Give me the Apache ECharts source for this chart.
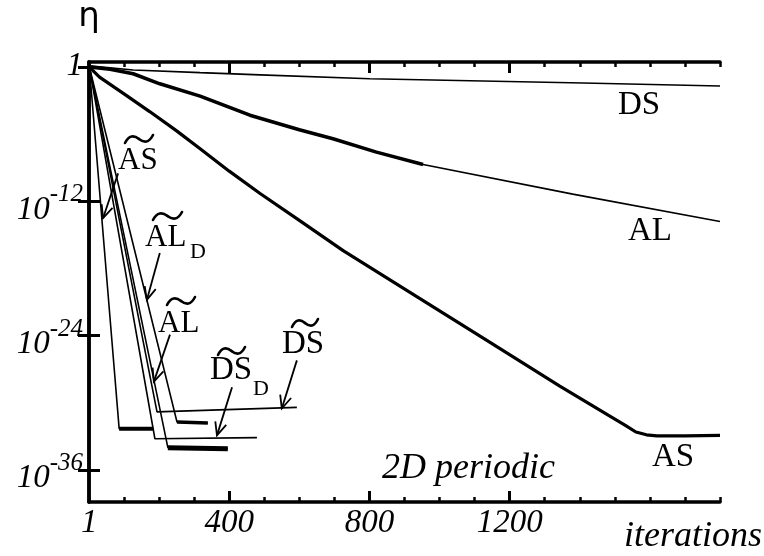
<!DOCTYPE html>
<html>
<head>
<meta charset="utf-8">
<title>2D periodic</title>
<script src="https://cdn.jsdelivr.net/npm/echarts@6.0.0/dist/echarts.min.js"></script>
<style>
  html, body { margin: 0; padding: 0; background: #fff; }
  #main { width: 764px; height: 556px; }
</style>
</head>
<body>
<div id="main"></div>
<script>
// values are log10(eta), x = iterations
const ds   = [[1, 0.1], [126, -0.27], [317, -0.5], [488, -0.7], [801, -1.04], [1409, -1.42], [1800, -1.69]];
const al   = [[1, 0], [60, -0.2], [126, -0.6], [202, -1.5], [317, -2.6], [459, -4.3], [600, -5.6], [696, -6.4],
              [820, -7.6], [953, -8.7], [1380, -11.35], [1800, -13.8]];
const as   = [[1, 0], [30, -0.9], [100, -2.4], [174, -4.0], [250, -5.7], [317, -7.3], [400, -9.3], [488, -11.3],
              [600, -13.7], [725, -16.4], [935, -20.5], [1144, -24.6], [1343, -28.5], [1481, -31.1], [1530, -32.0],
              [1560, -32.6], [1590, -32.85], [1620, -32.95], [1700, -32.95], [1800, -32.9]];
const asT  = [[1, 0], [86, -32.3], [183, -32.3]];
const dsTD = [[1, 0], [188, -33.2], [479, -33.1]];
const dsT  = [[1, 0], [194, -30.8], [593, -30.4]];
const alT  = [[1, 0], [225, -34.0], [396, -34.1]];
const alTD = [[1, 0], [251, -31.7], [339, -31.8]];

// iteration ranges where the curve is noisy (drawn thicker)
const noisyAl   = [1, 953];
const noisyAs   = [1, 1800];
const noisyAsT  = [86, 183];
const noisyAlT  = [225, 396];
const noisyAlTD = [251, 339];

// arrows: [fromIter, fromLog, toIter, toLog]
const arrows = [
  [83, -9.5, 40, -13.5],
  [202, -16.6, 165, -20.8],
  [231, -23.9, 185, -28.1],
  [408, -28.6, 365, -32.9],
  [593, -26.2, 550, -30.5]
];

const xLabels = [1, 400, 800, 1200];
const xMajor = [400, 800, 1200];
const yTickExp = [0, -12, -24, -36];

const toVal = e => Math.pow(10, e);
const pts = arr => arr.map(p => [p[0], toVal(p[1])]);
const part = (arr, r) => arr.filter(p => p[0] >= r[0] && p[0] <= r[1]);
const yTicks = yTickExp.map(toVal);

const SERIF = 'Liberation Serif';

function line(arr, width) {
  return {
    type: 'line', data: pts(arr), showSymbol: false, symbol: 'none', silent: true,
    lineStyle: { color: '#000', width: width }, z: 3
  };
}

function label(text, x, y, size, italic) {
  return {
    type: 'text', x: x, y: y, z: 10,
    style: { text: text, fontSize: size, fontFamily: SERIF, fontStyle: italic ? 'italic' : 'normal',
             fill: '#000', verticalAlign: 'middle', align: 'left' }
  };
}

// wide tilde drawn as two bezier pieces
function tilde(x0, x1, yc) {
  const s = (x1 - x0) / 28;
  const X = dx => x0 + dx * s;
  const st = { stroke: '#000', lineWidth: 2.6, fill: null, lineCap: 'round' };
  return [
    { type: 'bezierCurve', z: 10, style: st,
      shape: { x1: X(0), y1: yc + 4, cpx1: X(4), cpy1: yc - 4, cpx2: X(9), cpy2: yc - 4, x2: X(14), y2: yc } },
    { type: 'bezierCurve', z: 10, style: st,
      shape: { x1: X(14), y1: yc, cpx1: X(19), cpy1: yc + 4, cpx2: X(24), cpy2: yc + 4, x2: X(28), y2: yc - 4 } }
  ];
}

const axisBlack = { color: '#000', width: 3.5 };
const itSerif = { fontFamily: SERIF, fontStyle: 'italic', color: '#000' };

const option = {
  animation: false,
  backgroundColor: '#fff',
  grid: { left: 89, right: 44, top: 60, bottom: 54 },
  xAxis: [
    {
      type: 'value', min: 0, max: 1800, interval: 100, position: 'bottom',
      axisLine: { lineStyle: axisBlack },
      axisTick: { inside: true, length: 5, lineStyle: { color: '#000', width: 2.5 } },
      axisLabel: {
        customValues: xLabels, margin: 5, color: '#000', formatter: v => String(v),
        fontFamily: SERIF, fontStyle: 'italic', fontSize: 33
      },
      splitLine: { show: false }
    },
    {
      type: 'value', min: 0, max: 1800, position: 'bottom',
      axisLine: { show: false },
      axisTick: { inside: true, length: 11, customValues: xMajor, lineStyle: { color: '#000', width: 3 } },
      axisLabel: { show: false }, splitLine: { show: false }
    },
    {
      type: 'value', min: 0, max: 1800, interval: 100, position: 'top',
      axisLine: { lineStyle: axisBlack },
      axisTick: { inside: true, length: 5, lineStyle: { color: '#000', width: 2.5 } },
      axisLabel: { show: false }, splitLine: { show: false }
    },
    {
      type: 'value', min: 0, max: 1800, position: 'top',
      axisLine: { show: false },
      axisTick: { inside: true, length: 11, customValues: xMajor, lineStyle: { color: '#000', width: 3 } },
      axisLabel: { show: false }, splitLine: { show: false }
    }
  ],
  yAxis: [
    {
      type: 'log', logBase: 10, min: toVal(-38.85), max: toVal(0.45), position: 'left',
      name: 'η', nameLocation: 'end', nameGap: 28,
      nameTextStyle: { fontFamily: 'DejaVu Sans', fontSize: 34, color: '#000', align: 'center' },
      axisLine: { lineStyle: axisBlack },
      axisTick: { inside: true, length: 11, customValues: yTicks, lineStyle: { color: '#000', width: 3 } },
      axisLabel: {
        customValues: yTicks, margin: 6, padding: [6, 0, 0, 0],
        formatter: v => {
          const e = Math.round(Math.log10(v));
          return e === 0 ? '{o|1}' : '{b|10}{s|' + e + '}';
        },
        rich: {
          o: Object.assign({ fontSize: 33, lineHeight: 25, verticalAlign: 'bottom' }, itSerif),
          b: Object.assign({ fontSize: 33, lineHeight: 44, verticalAlign: 'bottom' }, itSerif),
          s: Object.assign({ fontSize: 25, lineHeight: 25, verticalAlign: 'top' }, itSerif)
        }
      },
      splitLine: { show: false }
    },
    {
      type: 'log', logBase: 10, min: toVal(-38.85), max: toVal(0.45), position: 'right',
      axisLine: { lineStyle: axisBlack },
      axisTick: { inside: true, length: 11, customValues: yTicks, lineStyle: { color: '#000', width: 3 } },
      axisLabel: { show: false }, splitLine: { show: false }
    }
  ],
  series: [
    line(ds, 1.6),
    line(al, 1.6),
    line(part(al, noisyAl), 3.6),
    line(as, 1.6),
    line(part(as, noisyAs), 3.2),
    line(asT, 1.6),
    line(part(asT, noisyAsT), 4),
    line(dsTD, 1.6),
    line(dsT, 1.6),
    line(alT, 1.6),
    line(part(alT, noisyAlT), 5),
    line(alTD, 1.6),
    line(part(alTD, noisyAlTD), 3.6),
    {
      type: 'custom', silent: true, z: 5,
      data: arrows.map(a => [a[0], toVal(a[1]), a[2], toVal(a[3])]),
      encode: { x: [0, 2], y: [1, 3] },
      renderItem: (params, api) => {
        const a = api.coord([api.value(0), api.value(1)]);
        const b = api.coord([api.value(2), api.value(3)]);
        const ang = Math.atan2(b[1] - a[1], b[0] - a[0]);
        const L = 14, t = 0.42;
        const w1 = [b[0] - L * Math.cos(ang - t), b[1] - L * Math.sin(ang - t)];
        const w2 = [b[0] - L * Math.cos(ang + t), b[1] - L * Math.sin(ang + t)];
        return {
          type: 'group',
          children: [
            { type: 'line', shape: { x1: a[0], y1: a[1], x2: b[0], y2: b[1] },
              style: { stroke: '#000', lineWidth: 1.8 } },
            { type: 'polyline', shape: { points: [w1, b, w2] },
              style: { stroke: '#000', lineWidth: 1.8, fill: null } }
          ]
        };
      }
    }
  ],
  graphic: [
    label('DS', 618, 105, 33),
    label('AL', 628, 231, 33),
    label('AS', 652, 457, 33),
    label('AS', 118, 161, 31), ...tilde(125, 153, 139),
    label('AL', 145, 238, 31), ...tilde(153, 182, 216), label('D', 190, 252, 22),
    label('AL', 158, 324, 31), ...tilde(167, 195, 301),
    label('DS', 210, 370, 33), ...tilde(218, 245, 351), label('D', 253, 389, 22),
    label('DS', 282, 344, 33), ...tilde(292, 318, 323),
    label('2D periodic', 382, 469, 36, true),
    {
      type: 'text', x: 762, y: 537, z: 10,
      style: { text: 'iterations', fontSize: 36, fontFamily: SERIF, fontStyle: 'italic',
               fill: '#000', verticalAlign: 'middle', align: 'right' }
    }
  ]
};

const chart = echarts.init(document.getElementById('main'));
chart.setOption(option);
</script>
</body>
</html>
